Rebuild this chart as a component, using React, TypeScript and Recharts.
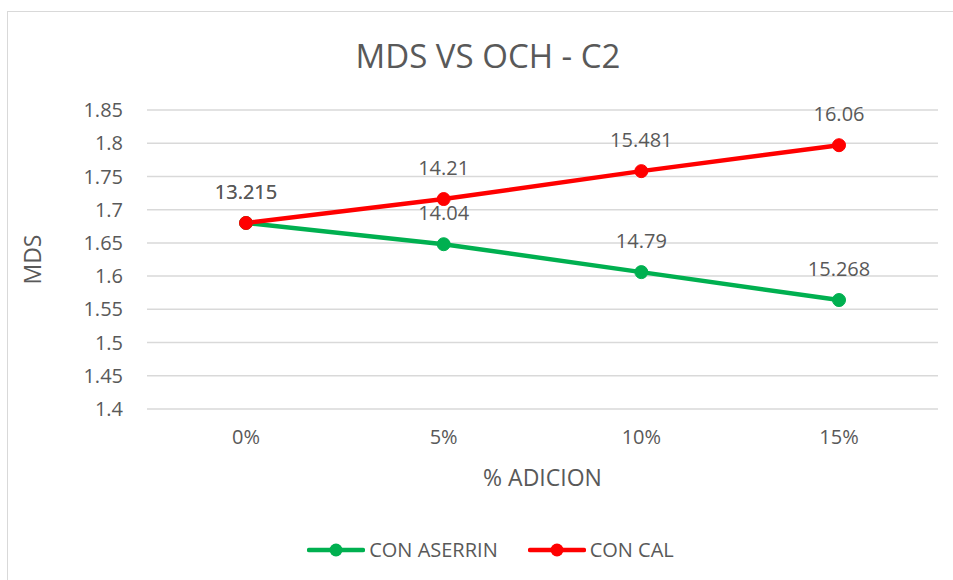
import { LineChart, Line, XAxis, YAxis, CartesianGrid, Legend, LabelList } from "recharts"

const categories = ["0%", "5%", "10%", "15%"]
const mdsAserrin = [1.68, 1.648, 1.606, 1.564]
const mdsCal = [1.68, 1.716, 1.758, 1.797]
const ochAserrin = [13.215, 14.04, 14.79, 15.268]
const ochCal = [13.215, 14.21, 15.481, 16.06]
const yTicks = [1.4, 1.45, 1.5, 1.55, 1.6, 1.65, 1.7, 1.75, 1.8, 1.85]

const data = categories.map((c, i) => ({
  cat: c,
  aserrin: mdsAserrin[i],
  cal: mdsCal[i],
  ochAserrin: ochAserrin[i],
  ochCal: ochCal[i],
}))

const GREEN = "#00B050"
const RED = "#FF0000"
const TEXT = "#595959"
const FONT = "'Open Sans', sans-serif"

function LegendContent() {
  const items = [
    { name: "CON ASERRIN", color: GREEN },
    { name: "CON CAL", color: RED },
  ]
  return (
    <div style={{ display: "flex", justifyContent: "center", gap: 30, fontFamily: FONT, fontSize: 20, color: TEXT }}>
      {items.map((it) => (
        <div key={it.name} style={{ display: "flex", alignItems: "center" }}>
          <svg width={58} height={16} style={{ marginRight: 4 }}>
            <line x1={2} y1={8} x2={56} y2={8} stroke={it.color} strokeWidth={4.5} strokeLinecap="round" />
            <circle cx={29} cy={8} r={6.5} fill={it.color} />
          </svg>
          <span>{it.name}</span>
        </div>
      ))}
    </div>
  )
}

export default function App() {
  return (
    <div style={{ position: "absolute", left: 0, top: 0, width: 953, height: 580, overflow: "hidden", background: "#fff" }}>
      <div
        style={{
          position: "absolute",
          left: 7,
          top: 11,
          width: 946,
          height: 569,
          borderTop: "1.5px solid #d9d9d9",
          borderLeft: "1.5px solid #d9d9d9",
        }}
      />
      <div
        style={{
          position: "absolute",
          left: 0,
          top: 34,
          width: 976,
          textAlign: "center",
          fontFamily: FONT,
          fontSize: 33,
          color: TEXT,
          lineHeight: "44px",
        }}
      >
        MDS VS OCH - C2
      </div>
      <LineChart
        width={953}
        height={580}
        data={data}
        margin={{ top: 110, right: 15, bottom: 81, left: 0 }}
        style={{ position: "absolute", left: 0, top: 0 }}
      >
        <CartesianGrid vertical={false} stroke="#d9d9d9" strokeWidth={1.5} />
        <XAxis
          dataKey="cat"
          padding={{ left: 99, right: 99 }}
          axisLine={false}
          tickLine={false}
          tickSize={0}
          tickMargin={21}
          height={90}
          tick={{ fontSize: 20, fontFamily: FONT, fill: TEXT }}
          label={{ value: "% ADICION", position: "insideBottom", offset: 13, fontSize: 23, fontFamily: FONT, fill: TEXT }}
        />
        <YAxis
          domain={[1.4, 1.85]}
          ticks={yTicks}
          width={147}
          axisLine={false}
          tickLine={false}
          tickSize={0}
          tickMargin={24}
          tick={{ fontSize: 20, fontFamily: FONT, fill: TEXT }}
          label={{
            value: "MDS",
            angle: -90,
            position: "insideLeft",
            offset: 33,
            fontSize: 23,
            fontFamily: FONT,
            fill: TEXT,
            style: { textAnchor: "middle" },
          }}
        />
        <Legend
          verticalAlign="middle"
          content={<LegendContent />}
          wrapperStyle={{ top: 536, left: 14, width: 953 }}
        />
        <Line
          dataKey="aserrin"
          name="CON ASERRIN"
          stroke={GREEN}
          strokeWidth={4.5}
          dot={{ r: 6.5, fill: GREEN, stroke: GREEN, strokeWidth: 1 }}
          activeDot={false}
          isAnimationActive={false}
        >
          <LabelList dataKey="ochAserrin" position="top" offset={24} fontSize={20} fontFamily={FONT} fill={TEXT} />
        </Line>
        <Line
          dataKey="cal"
          name="CON CAL"
          stroke={RED}
          strokeWidth={4.5}
          dot={{ r: 6.5, fill: RED, stroke: RED, strokeWidth: 1 }}
          activeDot={false}
          isAnimationActive={false}
        >
          <LabelList dataKey="ochCal" position="top" offset={24} fontSize={20} fontFamily={FONT} fill={TEXT} />
        </Line>
      </LineChart>
    </div>
  )
}
